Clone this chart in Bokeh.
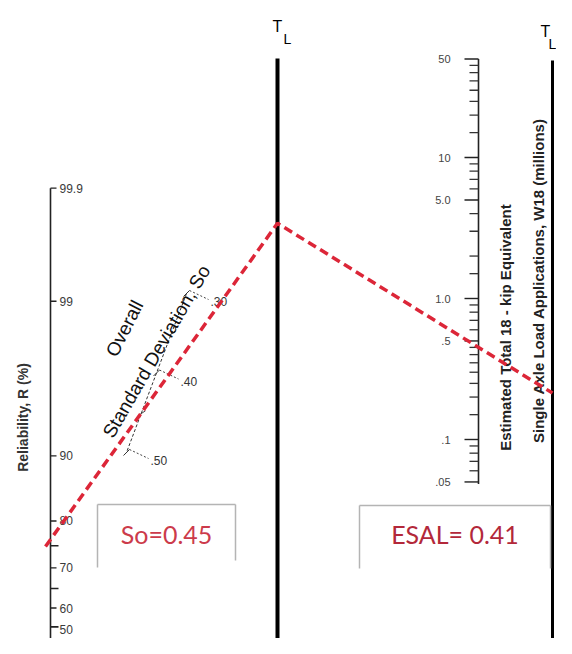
from math import log10
from statistics import NormalDist
from bokeh.plotting import figure
from bokeh.models import Range1d
from bokeh.core.properties import value
from bokeh.embed import file_html
from bokeh.resources import INLINE

# ---------------- data ----------------
reliability_ticks = [99.9, 99, 90, 80, 70, 60, 50]
reliability_labels = ["99.9", "99", "90", "80", "70", "60", "50"]
reliability_minor = [75, 65, 55]

so_ticks = [0.30, 0.40, 0.50]
so_labels = [".30", ".40", ".50"]
so_minor = [0.35, 0.45]

esal_ticks = [50, 10, 5.0, 1.0, 0.5, 0.1, 0.05]
esal_labels = ["50", "10", "5.0", "1.0", ".5", ".1", ".05"]
esal_minor = [45, 40, 35, 30, 25, 20, 15, 9, 8, 7, 6, 4, 3, 2, 1.5,
              0.9, 0.8, 0.7, 0.6, 0.45, 0.4, 0.35, 0.3, 0.25, 0.2, 0.15,
              0.09, 0.08, 0.07, 0.06]

solution_R = 76.3
solution_So = 0.45
solution_ESAL = 0.45
result_labels = ["So=0.45", "ESAL= 0.41"]

axis_titles = ["Reliability, R (%)", "Overall", "Standard Deviation, So",
               "Estimated Total 18 - kip Equivalent",
               "Single Axle Load Applications, W18 (millions)"]

# ---------------- nomograph layout ----------------
W, H = 556, 638
R_X, R_Y0, R_PX = 50, 645, 148
ESAL_X, ESAL_Y1, ESAL_PX = 478, 298, 141
SO_A, SO_B = (186, 293), (126, 452)
TL1_X, TL2_X = 277, 552

FONT = value("Liberation Sans")
RED = "#dc2638"


def r_y(r):
    return R_Y0 - R_PX * NormalDist().inv_cdf(r / 100.0)


def esal_y(w):
    return ESAL_Y1 - ESAL_PX * log10(w)


def so_xy(s):
    f = (s - 0.30) / 0.20
    return SO_A[0] + f * (SO_B[0] - SO_A[0]), SO_A[1] + f * (SO_B[1] - SO_A[1])


p = figure(width=W, height=H, x_range=Range1d(0, W), y_range=Range1d(H, 0),
           output_backend="svg", toolbar_location=None,
           x_axis_type=None, y_axis_type=None, min_border=0)
p.grid.visible = False
p.outline_line_color = None
p.background_fill_color = "white"

# ---- Reliability axis ----
p.segment(x0=[R_X], y0=[r_y(99.9)], x1=[R_X], y1=[r_y(50) + 3], line_color="#222222", line_width=1.6)
ry = [r_y(v) for v in reliability_ticks]
p.segment(x0=[R_X] * len(ry), y0=ry, x1=[R_X + 6] * len(ry), y1=ry, line_color="#222222", line_width=1.4)
rmy = [r_y(v) for v in reliability_minor]
p.segment(x0=[R_X] * len(rmy), y0=rmy, x1=[R_X + 8] * len(rmy), y1=rmy, line_color="#222222", line_width=1.6)
ly = [min(y, H - 9) for y in ry]
p.text(x=[R_X + 9] * len(ry), y=ly, text=reliability_labels, text_font=FONT,
       text_font_size="12px", text_color="#3a3a3a", text_align="left", text_baseline="middle")
p.text(x=[22], y=[417], text=[axis_titles[0]], angle=90, angle_units="deg", text_font=FONT,
       text_font_size="14px", text_font_style="bold", text_color="#333333",
       text_align="center", text_baseline="middle")

# ---- So scale ----
sa, sb = so_xy(0.30), so_xy(0.50)
p.line([sa[0], sb[0]], [sa[1], sb[1]], line_color="#333333", line_width=1, line_dash="3 2")
for s, lab in zip(so_ticks, so_labels):
    x, y = so_xy(s)
    p.line([x - 3, x + 3], [y + 3, y - 3], line_color="#333333", line_width=1)
    p.line([x + 3, x + 22], [y - 3, y + 6], line_color="#444444", line_width=1, line_dash="2 2")
    p.text(x=[x + 24], y=[y + 8], text=[lab], text_font=FONT, text_font_size="12px",
           text_color="#333333", text_align="left", text_baseline="middle")
for s in so_minor:
    x, y = so_xy(s)
    p.line([x - 2, x + 4], [y + 2, y - 2], line_color="#444444", line_width=1)
p.text(x=[124], y=[328], text=[axis_titles[1]], angle=63, angle_units="deg", text_font=FONT,
       text_font_size="19px", text_color="#111111", text_align="center", text_baseline="middle")
p.text(x=[156], y=[351], text=[axis_titles[2]], angle=60, angle_units="deg", text_font=FONT,
       text_font_size="19px", text_color="#111111", text_align="center", text_baseline="middle")

# ---- T_L turning lines ----
for tx, top, lw in [(TL1_X, 58, 4), (TL2_X, 60, 3)]:
    p.segment(x0=[tx], y0=[top], x1=[tx], y1=[H + 10], line_color="black", line_width=lw)
p.text(x=[TL1_X, TL2_X - 7], y=[26, 31], text=["T", "T"], text_font=FONT, text_font_size="16px",
       text_color="black", text_align="center", text_baseline="middle")
p.text(x=[TL1_X + 10, TL2_X], y=[38, 43], text=["L", "L"], text_font=FONT, text_font_size="14px",
       text_color="black", text_align="center", text_baseline="middle")

# ---- ESAL axis ----
p.segment(x0=[ESAL_X], y0=[esal_y(50)], x1=[ESAL_X], y1=[esal_y(0.05) + 2], line_color="#222222", line_width=1.6)
ey = [esal_y(v) for v in esal_ticks]
p.segment(x0=[ESAL_X - 14] * len(ey), y0=ey, x1=[ESAL_X] * len(ey), y1=ey, line_color="#222222", line_width=1.4)
emy = [esal_y(v) for v in esal_minor]
p.segment(x0=[ESAL_X - 9] * len(emy), y0=emy, x1=[ESAL_X] * len(emy), y1=emy, line_color="#333333", line_width=1.3)
p.text(x=[ESAL_X - 28] * len(ey), y=ey, text=esal_labels, text_font=FONT, text_font_size="11px",
       text_color="#444444", text_align="right", text_baseline="middle")
p.text(x=[505, 538], y=[327, 280], text=axis_titles[3:5], angle=90, angle_units="deg", text_font=FONT,
       text_font_size="15px", text_font_style="bold", text_color="#222222",
       text_align="center", text_baseline="middle")

# ---- solution path ----
A = (R_X, r_y(solution_R))
B = so_xy(solution_So)
m1 = (B[1] - A[1]) / (B[0] - A[0])
P = (TL1_X, A[1] + m1 * (TL1_X - A[0]))
S0 = (R_X - 5, A[1] - m1 * 5)
E = (ESAL_X, esal_y(solution_ESAL))
m2 = (E[1] - P[1]) / (E[0] - P[0])
Z = (TL2_X, P[1] + m2 * (TL2_X - P[0]))
p.line([S0[0], P[0], Z[0]], [S0[1], P[1], Z[1]], line_color=RED, line_width=3.5, line_dash="9 5")

# ---- result boxes ----
for (x0, x1, top, l_bot, r_bot), lab, col in zip(
        [(97, 235, 504, 567, 560), (359, 550, 505, 568, 568)], result_labels, ["#cc3b4b", "#b3283a"]):
    p.multi_line(xs=[[x0, x1], [x0, x0], [x1, x1]], ys=[[top, top], [top, l_bot], [top, r_bot]],
                 line_color="#b4b4b4", line_width=1.5)
    p.text(x=[(x0 + x1) / 2], y=[533], text=[lab], text_font=value("Lato"), text_font_size="25px",
           text_color=col, text_align="center", text_baseline="middle")

open("out.html", "w").write(file_html(p, INLINE))
